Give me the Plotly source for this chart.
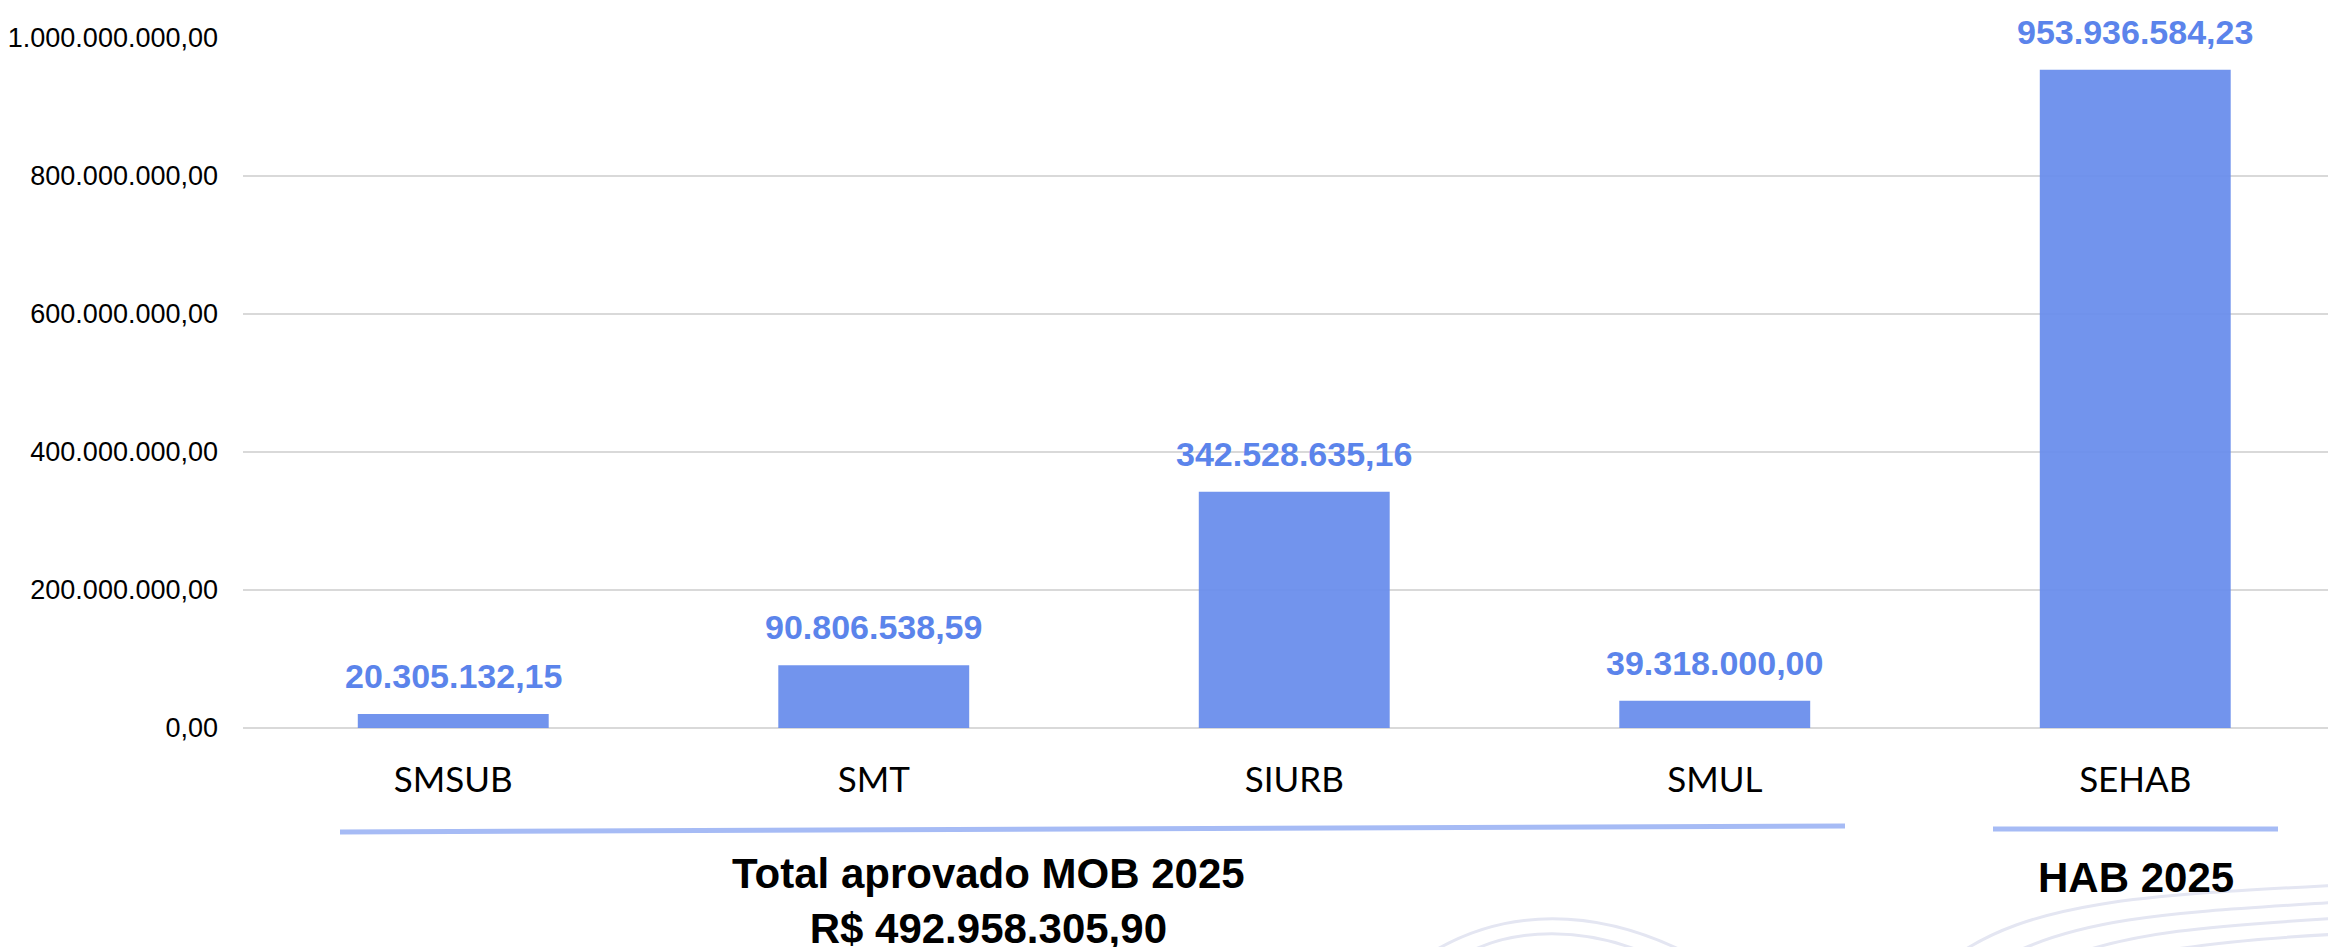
import plotly.graph_objects as go

# ---- data ----
categories = ["SMSUB", "SMT", "SIURB", "SMUL", "SEHAB"]
values = [20305132.15, 90806538.59, 342528635.16, 39318000.00, 953936584.23]
mob_categories = ["SMSUB", "SMT", "SIURB", "SMUL"]
y_ticks = [0, 200000000, 400000000, 600000000, 800000000, 1000000000]
mob_title = "Total aprovado MOB 2025"
hab_title = "HAB 2025"

# page body has an 8px default margin; compensate
OFF = 8
W, H = 2336 - OFF, 947 - OFF
L, R, T, B = 243 - OFF, 2336 - OFF, 38 - OFF, 728 - OFF


def br(v):
    s = f"{v:,.2f}"
    return s.replace(",", "X").replace(".", ",").replace("X", ".")


def px(x):
    # x given in screen pixels
    return (x - OFF - L) / (R - L)


def py(y):
    return (B - (y - OFF)) / (B - T)


mob_total = sum(v for c, v in zip(categories, values) if c in mob_categories)

fig = go.Figure()
fig.add_trace(go.Bar(
    x=categories, y=values,
    marker=dict(color="#6A8EEC", line=dict(width=0)),
    opacity=0.95,
    hoverinfo="skip",
))

annotations = []
for c, v in zip(categories, values):
    annotations.append(dict(
        x=c, y=v, xref="x", yref="y", text=f"<b>{br(v)}</b>",
        showarrow=False, yanchor="bottom", yshift=17,
        font=dict(family="Liberation Sans, Arial", size=34, color="#5B84EB"),
    ))

annotations.append(dict(
    x=px(988), y=py(848), xref="paper", yref="paper",
    text=f"<b>{mob_title}</b><br><b>R$ {br(mob_total)}</b>",
    showarrow=False, xanchor="center", yanchor="top", align="center",
    font=dict(family="Liberation Sans, Arial", size=42, color="#000000"),
))
annotations.append(dict(
    x=px(2136), y=py(852), xref="paper", yref="paper",
    text=f"<b>{hab_title}</b>",
    showarrow=False, xanchor="center", yanchor="top", align="center",
    font=dict(family="Liberation Sans, Arial", size=42, color="#000000"),
))

shapes = [
    dict(type="line", xref="paper", yref="paper",
         x0=px(340), y0=py(832), x1=px(1845), y1=py(826),
         line=dict(color="#A6BBF5", width=5)),
    dict(type="line", xref="paper", yref="paper",
         x0=px(1993), y0=py(829), x1=px(2278), y1=py(829),
         line=dict(color="#A6BBF5", width=5)),
]

# faint decorative background curves (bottom right)
deco = [
    [(1420, 960), (1500, 905), (1600, 905), (1700, 960)],
    [(1455, 960), (1510, 925), (1590, 925), (1660, 960)],
    [(1950, 960), (2030, 900), (2150, 895), (2340, 885)],
    [(2000, 960), (2080, 915), (2190, 912), (2340, 902)],
    [(2060, 960), (2130, 930), (2230, 925), (2340, 918)],
    [(2120, 960), (2180, 945), (2260, 938), (2340, 934)],
]
for pts in deco:
    (x0, y0), (x1, y1), (x2, y2), (x3, y3) = pts
    path = (f"M {px(x0)},{py(y0)} C {px(x1)},{py(y1)} "
            f"{px(x2)},{py(y2)} {px(x3)},{py(y3)}")
    shapes.append(dict(type="path", xref="paper", yref="paper", path=path,
                       line=dict(color="#E4E6F2", width=3), layer="below"))

fig.update_layout(
    width=W, height=H,
    margin=dict(l=L, r=W - R, t=T, b=H - B, pad=0),
    paper_bgcolor="white", plot_bgcolor="white",
    separators=",.",
    bargap=0.546,
    showlegend=False,
    annotations=annotations,
    shapes=shapes,
    xaxis=dict(
        range=[-0.5, -0.5 + (R - L) / 420.5],
        showgrid=False, zeroline=False, showline=False,
        ticks="", ticklabelstandoff=28,
        tickfont=dict(family="Lato", size=35, color="#000000"),
    ),
    yaxis=dict(
        range=[0, 1000000000],
        tickvals=y_ticks, tickformat=",.2f",
        showgrid=True, gridcolor="#D9D9D9", gridwidth=2,
        zeroline=True, zerolinecolor="#D9D9D9", zerolinewidth=2,
        showline=False, ticks="", ticklabelstandoff=24,
        tickfont=dict(family="Liberation Sans, Arial", size=27, color="#000000"),
    ),
)

fig.write_html("out.html")
